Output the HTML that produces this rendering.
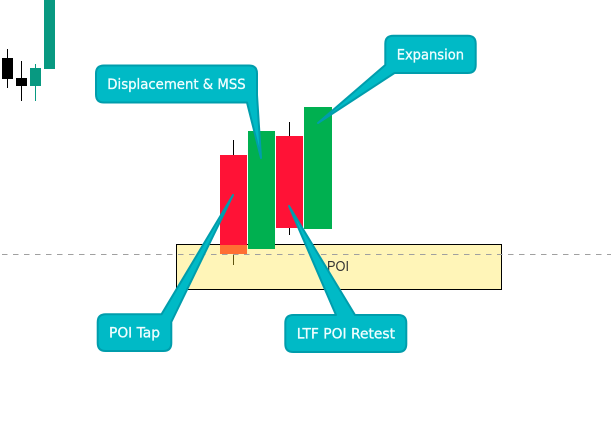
<!DOCTYPE html>
<html>
<head>
<meta charset="utf-8">
<style>
html,body{margin:0;padding:0;background:#fff;width:611px;height:423px;overflow:hidden}
svg{display:block}
text{font-family:"DejaVu Sans","Liberation Sans",sans-serif}
.l{font-size:14.5px;fill:#f0feff;stroke:#f0feff;stroke-width:.3px;font-weight:400}
.c{fill:#00bac6;stroke:#009dac;stroke-width:2;stroke-linejoin:round}
</style>
</head>
<body>
<svg width="611" height="423" viewBox="0 0 611 423" xmlns="http://www.w3.org/2000/svg">
<rect width="611" height="423" fill="#fff"/>
<!-- left candles -->
<g shape-rendering="crispEdges">
<rect x="7" y="49" width="1" height="39" fill="#000"/>
<rect x="2" y="58" width="11" height="21" fill="#000"/>
<rect x="21" y="61" width="1" height="40" fill="#000"/>
<rect x="16" y="78" width="11" height="8" fill="#000"/>
<rect x="35" y="64" width="1" height="37" fill="#089981"/>
<rect x="30" y="68" width="11" height="18" fill="#089981"/>
<rect x="44" y="0" width="11" height="69" fill="#089981"/>
<!-- wicks -->
<rect x="233" y="140" width="1" height="125" fill="#000"/>
<rect x="289" y="122" width="1" height="113" fill="#000"/>
<!-- POI box -->
<rect x="176.5" y="244.5" width="325" height="45" fill="#fff5b8" stroke="#000" stroke-width="1"/>
<rect x="233" y="254" width="1" height="11" fill="#5f5410"/>
<!-- candles -->
<rect x="220" y="155" width="27" height="90" fill="#ff1236"/>
<rect x="220" y="245" width="27" height="9" fill="#ff6f33"/>
<rect x="248" y="131" width="27" height="118" fill="#00b050"/>
<rect x="276" y="136" width="27" height="92" fill="#ff1236"/>
<rect x="304" y="107" width="28" height="122" fill="#00b050"/>
</g>
<!-- dashed line -->
<line x1="0" y1="254.5" x2="611" y2="254.5" stroke="#a0a0a0" stroke-width="1" stroke-dasharray="5.5 5.5" stroke-dashoffset="-2"/>
<text x="327" y="271" font-size="15" fill="#333" style="font-family:'Liberation Sans',sans-serif" textLength="22" lengthAdjust="spacingAndGlyphs">POI</text>
<!-- callouts -->
<path class="c" d="M104,65.5 H249 Q257,65.5 257,73.5 V95 L261,158 L247,102.5 H104 Q96,102.5 96,94.5 V73.5 Q96,65.5 104,65.5 Z"/>
<text class="l" x="107.3" y="89" textLength="138.4" lengthAdjust="spacingAndGlyphs">Displacement &amp; MSS</text>
<path class="c" d="M393.3,35.7 H467.7 Q475.7,35.7 475.7,43.7 V65 Q475.7,73 467.7,73 H394.5 L318,123 L385.3,65 V43.7 Q385.3,35.7 393.3,35.7 Z"/>
<text class="l" x="396.7" y="59.3" textLength="67.3" lengthAdjust="spacingAndGlyphs">Expansion</text>
<path class="c" d="M105.7,314.3 H161.5 L233,195 L171.3,322 V343 Q171.3,351 163.3,351 H105.7 Q97.7,351 97.7,343 V322.3 Q97.7,314.3 105.7,314.3 Z"/>
<text class="l" x="109" y="337.5" textLength="51" lengthAdjust="spacingAndGlyphs">POI Tap</text>
<path class="c" d="M293.3,315 H336 L289,206 L355,315 H398.3 Q406.3,315 406.3,323 V344 Q406.3,352 398.3,352 H293.3 Q285.3,352 285.3,344 V323 Q285.3,315 293.3,315 Z"/>
<text class="l" x="296.7" y="338.3" textLength="98.3" lengthAdjust="spacingAndGlyphs">LTF POI Retest</text>
</svg>
</body>
</html>
